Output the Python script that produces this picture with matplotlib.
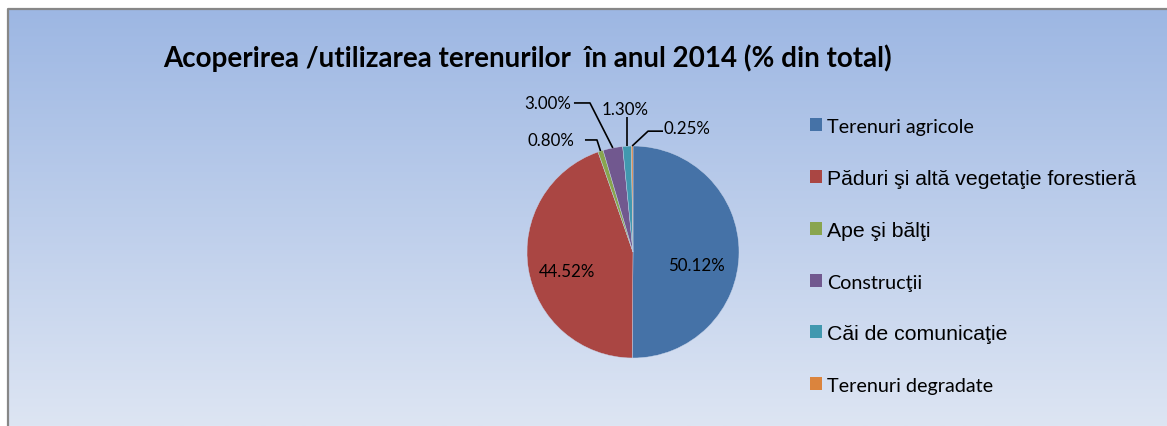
import matplotlib.pyplot as plt
import numpy as np
from matplotlib.colors import LinearSegmentedColormap

# data
categories = ['Terenuri agricole', 'Păduri şi altă vegetaţie forestieră', 'Ape şi bălţi',
              'Construcţii', 'Căi de comunicaţie', 'Terenuri degradate']
values = [50.12, 44.52, 0.80, 3.00, 1.30, 0.25]
colors = ['#4572A7', '#AA4643', '#89A54E', '#71588F', '#4198AF', '#DB843D']
title = 'Acoperirea /utilizarea terenurilor  în anul 2014 (% din total)'

W, H = 1167, 427
fig = plt.figure(figsize=(W / 100, H / 100), dpi=100)
fig.patch.set_facecolor('white')

# background panel with vertical gradient
bg = fig.add_axes([0, 0, 1, 1], zorder=0)
bg.set_xlim(0, W)
bg.set_ylim(H, 0)
bg.axis('off')
cmap = LinearSegmentedColormap.from_list('bg', ['#9DB7E3', '#DDE5F3'])
grad = np.linspace(0, 1, 256).reshape(-1, 1)
bg.imshow(grad, cmap=cmap, extent=(8, W, H, 10), aspect='auto')
bg.plot([8, 8, W], [H, 10, 10], color='#878787', lw=1.6, solid_capstyle='butt')

fig.text(527 / W, 1 - 58 / H, title, ha='center', va='center',
         fontsize=20, fontweight='bold', family=['Lato', 'DejaVu Sans'])

# pie: centre (633, 253) px, radius 106 px
R = 106
ax = fig.add_axes([(633 - 200) / W, 1 - (253 + 200) / H, 400 / W, 400 / H], zorder=2)

wedges, _ = ax.pie(values, colors=colors, startangle=90, counterclock=False,
                   radius=1, wedgeprops=dict(linewidth=0.3, edgecolor='#c8d4ea'))
ax.set_xlim(-200 / R, 200 / R)
ax.set_ylim(-200 / R, 200 / R)
ax.set_aspect('equal')
ax.axis('off')

lab_font = dict(fontsize=12.2, family=['Lato', 'DejaVu Sans'], color='black')

def mid_point(w, r=1.0):
    a = np.deg2rad((w.theta1 + w.theta2) / 2)
    return r * np.cos(a), r * np.sin(a)

# inside labels
x, y = mid_point(wedges[0], 0.6)
ax.text(x, y - 0.12, f'{values[0]:.2f}%', ha='center', va='center', **lab_font)
x, y = mid_point(wedges[1], 0.63)
ax.text(x, y - 0.08, f'{values[1]:.2f}%', ha='center', va='center', **lab_font)

# outside labels with leader lines: (index, text pos, line path before the wedge point)
outside = [
    (2, (-0.774, 1.057), [(-0.453, 1.057), (-0.34, 1.057)]),
    (3, (-0.80, 1.406), [(-0.557, 1.406), (-0.406, 1.406)]),
    (5, (0.509, 1.17), [(0.283, 1.14), (0.142, 1.14)]),
]
for i, tpos, path in outside:
    ax.text(*tpos, f'{values[i]:.2f}%', ha='center', va='center', **lab_font)
    px, py = mid_point(wedges[i])
    xs = [p[0] for p in path] + [px]
    ys = [p[1] for p in path] + [py]
    ax.plot(xs, ys, color='black', lw=1.2, solid_capstyle='butt')

px, py = mid_point(wedges[4])
ax.text(-0.075, 1.349, f'{values[4]:.2f}%', ha='center', va='center', **lab_font)
ax.plot([px, px], [1.274, py], color='black', lw=1.2, solid_capstyle='butt')

# legend
leg = fig.legend(wedges, categories, loc='upper left',
                 bbox_to_anchor=(810 / W, 1 - 119 / H), frameon=False,
                 prop={'family': ['Liberation Sans', 'DejaVu Sans'], 'size': 15.3},
                 handlelength=0.56, handleheight=0.56, handletextpad=0.24,
                 labelspacing=1.58, borderpad=0, borderaxespad=0)
for t in leg.get_texts():
    if t.get_text() in ('Terenuri agricole', 'Construcţii', 'Terenuri degradate'):
        t.set_family(['Lato', 'DejaVu Sans'])
        t.set_fontsize(14.2)
for h in leg.legend_handles:
    h.set_edgecolor('none')

fig.savefig('out.png', dpi=100)
